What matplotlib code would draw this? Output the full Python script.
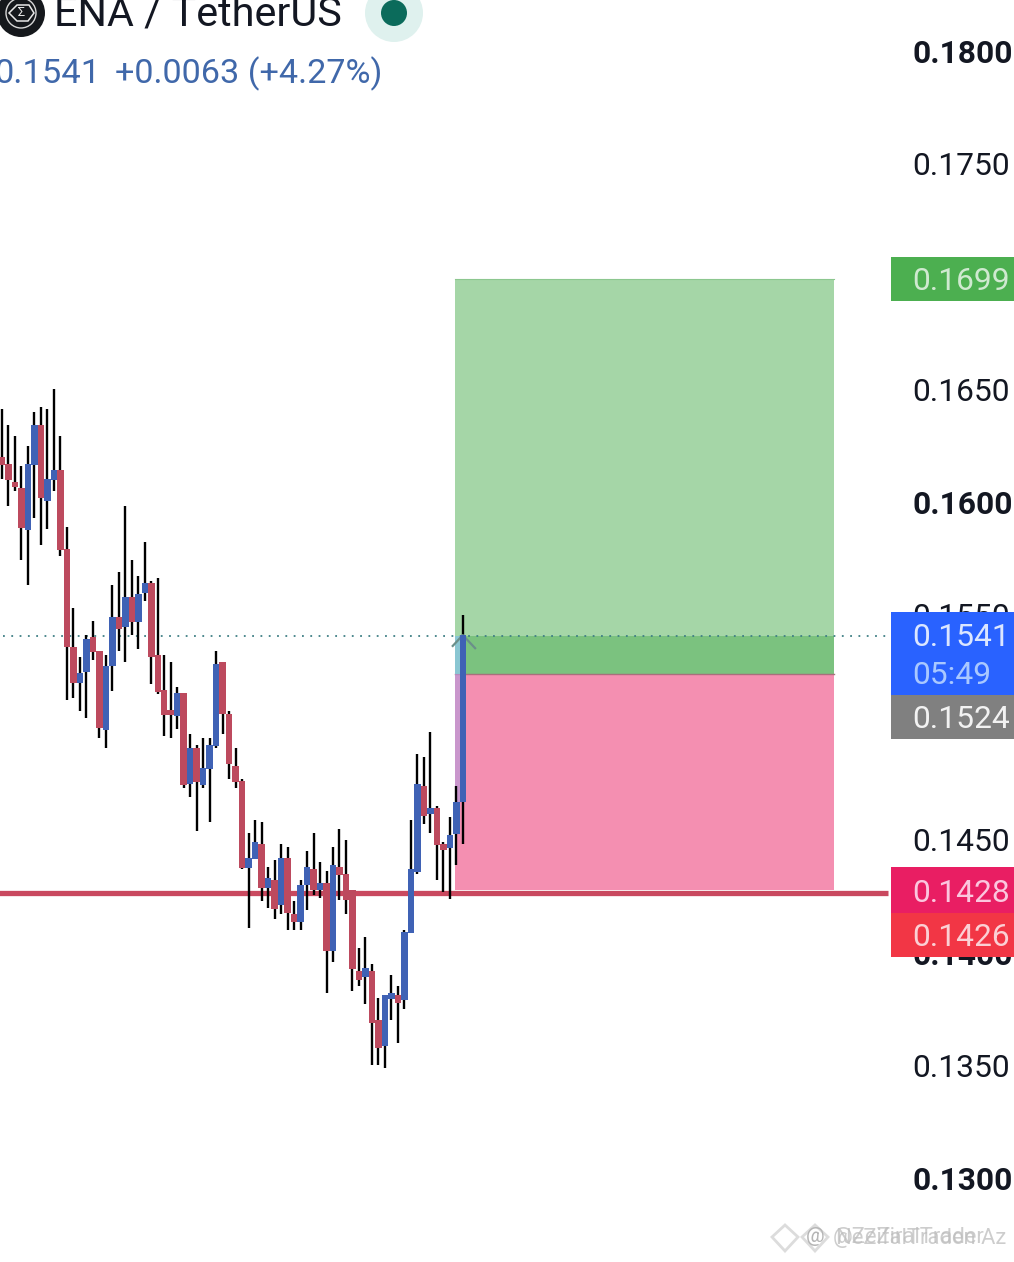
"""ENA / TetherUS candles with a long-position box, price scale and status labels."""
import numpy as np
import matplotlib
matplotlib.use("Agg")
import matplotlib.pyplot as plt
from matplotlib.patches import Circle, Polygon, Rectangle
from matplotlib.transforms import blended_transform_factory

plt.rcParams["font.family"] = ["Roboto", "DejaVu Sans"]

# candles
opens = [.16203, .16172, .16092, .16066, .15879, .16168, .16345, .16008, .16101, .16145,
         .15795, .15360, .15200, .15249, .15405, .15342, .14990, .15276, .15493, .15449,
         .15582, .15471, .15600, .15644, .15325, .15169, .15081, .15054, .15156, .14752,
         .14912, .14748, .14818, .14921, .15294, .15063, .14832, .14765, .14380, .14420,
         .14486, .14291, .14326, .14216, .14424, .14176, .14140, .14304, .14375, .14282,
         .14313, .14011, .14384, .14353, .14282, .13923, .13896, .13923, .13705, .13590,
         .13798, .13816, .13794, .14091, .14362, .14743, .14619, .14646, .14486, .14469,
         .14531, .14673]
closes = [.16168, .16101, .16070, .15888, .16172, .16345, .16021, .16105, .16145, .15791,
          .15360, .15200, .15245, .15396, .15338, .14999, .15276, .15493, .15440, .15582,
          .15471, .15595, .15644, .15316, .15161, .15058, .15058, .15156, .14748, .14912,
          .14761, .14823, .14925, .15285, .15063, .14841, .14761, .14380, .14424, .14495,
          .14291, .14335, .14198, .14424, .14180, .14140, .14304, .14384, .14282, .14313,
          .14011, .14393, .14349, .14238, .13932, .13883, .13936, .13692, .13581, .13816,
          .13825, .13781, .14096, .14375, .14752, .14610, .14646, .14482, .14460, .14526,
          .14673, .15413]
highs = [.16416, .16345, .16296, .16163, .16252, .16403, .16425, .16416, .16505, .16296,
         .15893, .15533, .15316, .15413, .15476, .15342, .15325, .15635, .15693, .15986,
         .15746, .15675, .15826, .15653, .15666, .15325, .15294, .15182, .15156, .14974,
         .14925, .14956, .14956, .15342, .15294, .15076, .14912, .14775, .14535, .14593,
         .14584, .14384, .14415, .14486, .14473, .14233, .14326, .14455, .14535, .14406,
         .14366, .14473, .14553, .14504, .14282, .14025, .14074, .13954, .13803, .13816,
         .13905, .13856, .14105, .14593, .14885, .14872, .14983, .14655, .14495, .14606,
         .14743, .15502]
lows = [.16105, .15986, .16052, .15746, .15635, .15932, .15813, .15884, .16052, .15764,
        .15125, .15134, .15076, .15045, .15303, .14955, .14912, .15165, .15342, .15294,
        .15413, .15351, .15564, .15196, .15152, .14965, .14955, .14995, .14734, .14695,
        .14544, .14734, .14584, .14912, .14974, .14775, .14734, .14375, .14114, .14420,
        .14233, .14202, .14153, .14176, .14105, .14105, .14105, .14193, .14260, .14247,
        .13825, .13963, .14238, .14176, .13834, .13856, .13776, .13506, .13506, .13492,
        .13705, .13603, .13754, .14091, .14353, .14575, .14535, .14326, .14273, .14242,
        .14393, .14486]

scale_prices = [0.1800, 0.1750, 0.1650, 0.1600, 0.1550, 0.1450, 0.1400, 0.1350, 0.1300]
scale_bold = [True, False, False, True, False, False, True, False, True]

last_price = 0.1541
target_price = 0.1699
entry_price = 0.1524
stop_price = 0.1428
support_price = 0.1427
box_bars = (69.8, 128.2)

UP = "#3f62b5"
DOWN = "#bd4a5e"
W, H = 1014, 1262

fig = plt.figure(figsize=(W / 100, H / 100), dpi=100, facecolor="white")
ax = fig.add_axes([0, 0, 1, 1])
ax.set_xlim(-2 / 6.49, (W - 2) / 6.49)
ax.set_ylim(0.18 - (H - 52) / 22540, 0.18 + 52 / 22540)
ax.axis("off")

# position box first, candles go over it
x0, x1 = box_bars
ax.add_patch(Rectangle((x0, entry_price), x1 - x0, target_price - entry_price + 0.00003, fc="#a5d6a7", ec="none", zorder=1))
ax.add_patch(Rectangle((x0, entry_price), x1 - x0, last_price - entry_price, fc="#7bc27f", ec="none", zorder=1.1))
ax.add_patch(Rectangle((x0, stop_price), x1 - x0, entry_price - stop_price, fc="#f48fb1", ec="none", zorder=1))
ax.plot([x0, x1], [entry_price, entry_price], color="#a8707c", lw=1, zorder=1.2)
ax.plot([x0, x1], [target_price + 0.00003] * 2, color="#8cc78f", lw=0.8, zorder=1.2)

# glow of the last bar on the box
ax.add_patch(Rectangle((x0, entry_price), 1.2, last_price - entry_price, fc="#8fc8e8", ec="none", alpha=0.8, zorder=1.3))
ax.add_patch(Rectangle((x0, closes[-2]), 1.2, entry_price - closes[-2], fc="#b79ad8", ec="none", alpha=0.7, zorder=1.3))

# lines stop where the price scale starts
line_end = (888 - 2) / 6.49
ax.plot([-1, line_end], [support_price, support_price], color="#c9495f", lw=3.8, zorder=2, solid_capstyle="butt")
ax.plot([0.2, line_end], [last_price, last_price], color="#3f7f85", lw=1.3, ls=(0, (1, 3.6)), zorder=2)

xs = np.arange(len(opens))
o = np.array(opens)
c = np.array(closes)
colors = [UP if b > a else DOWN for a, b in zip(o, c)]
ax.vlines(xs, lows, highs, color="black", lw=1.7, zorder=3)
ax.bar(xs, np.abs(c - o), 1.0, bottom=np.minimum(o, c), color=colors, zorder=4)

# chevron on the last bar
ax.plot([xs[-1] - 1.55, xs[-1], xs[-1] + 1.9], [last_price - 0.00045, last_price + 0.00003, last_price - 0.00055],
        color="#6b8f8a", lw=1.6, zorder=3.5)

# price scale
trans = blended_transform_factory(fig.transFigure, ax.transData)
for p, bold in zip(scale_prices, scale_bold):
    ax.text(912.5 / W, p + 0.00004, f"{p:.4f}", transform=trans, fontsize=22.9, va="center_baseline", ha="left",
            fontweight="bold" if bold else "normal", color="#131722", zorder=5)

# pixel overlay for the app chrome
ui = fig.add_axes([0, 0, 1, 1], facecolor="none")
ui.set_xlim(0, W)
ui.set_ylim(H, 0)
ui.axis("off")

for top, bottom, col in [(257, 301, "#4caf50"), (612, 695, "#2962ff"), (695, 739, "#808080"),
                         (867, 913, "#e91e63"), (913, 957, "#f23645")]:
    ui.add_patch(Rectangle((891, top), W - 891, bottom - top, fc=col, ec="none", zorder=6))

for label, y, col in [("0.1699", 279, "#cfe9d0"), ("0.1541", 635, "#dbe6ff"), ("05:49", 673, "#a9c8ff"),
                      ("0.1524", 717, "#f2f2f2"), ("0.1428", 891, "#fbc6de"), ("0.1426", 935, "#fbd0d4")]:
    ui.text(912.5, y, label, fontsize=22.9, va="center_baseline", ha="left", color=col, zorder=7)

# header
ui.add_patch(Circle((21, 13), 24, fc="#15181c", ec="none", zorder=6))
ui.add_patch(Circle((21, 13), 15, fc="none", ec="#d8d8d8", lw=1, zorder=7))
ui.add_patch(Polygon([(9, 13), (17, 5), (29, 5), (34, 13), (28, 21), (17, 21)], closed=True, fc="none",
                     ec="#e8e8e8", lw=1.1, zorder=7))
ui.text(21, 13, "Σ", fontsize=9, va="center", ha="center", color="#e8e8e8", zorder=8)
ui.text(54, 26, "ENA / TetherUS", fontsize=29.8, va="baseline", ha="left", color="#131722", zorder=7)
ui.add_patch(Circle((394, 13), 29, fc="#dff1ee", ec="none", zorder=6))
ui.add_patch(Circle((394, 13), 13, fc="#0b6b5b", ec="none", zorder=7))
ui.text(-6, 83, "0.1541", fontsize=24.8, va="baseline", ha="left", color="#4068aa", zorder=7)
ui.text(115, 83, "+0.0063 (+4.27%)", fontsize=24.6, va="baseline", ha="left", color="#4068aa", zorder=7)

# watermark, two ghosted copies
for dx, lw in [(0, 2.0), (30, 2.0)]:
    ui.add_patch(Polygon([(772 + dx, 1237), (785 + dx, 1225), (798 + dx, 1237), (785 + dx, 1251)], closed=True,
                         fc="none", ec="#dcdcdc", lw=lw, zorder=7))
ui.text(815, 1237, "@", fontsize=15, va="center", ha="center", color="#b5b5b5", zorder=8)
for dx, txt in [(0, "@ZeZiralTrader"), (3, "NeZifalTraden Az")]:
    ui.text(833 + dx, 1238, txt, fontsize=15.8, va="center", ha="left", color="#bdbdbd", alpha=0.75, zorder=7)

fig.savefig("out.png", dpi=100, facecolor="white")
